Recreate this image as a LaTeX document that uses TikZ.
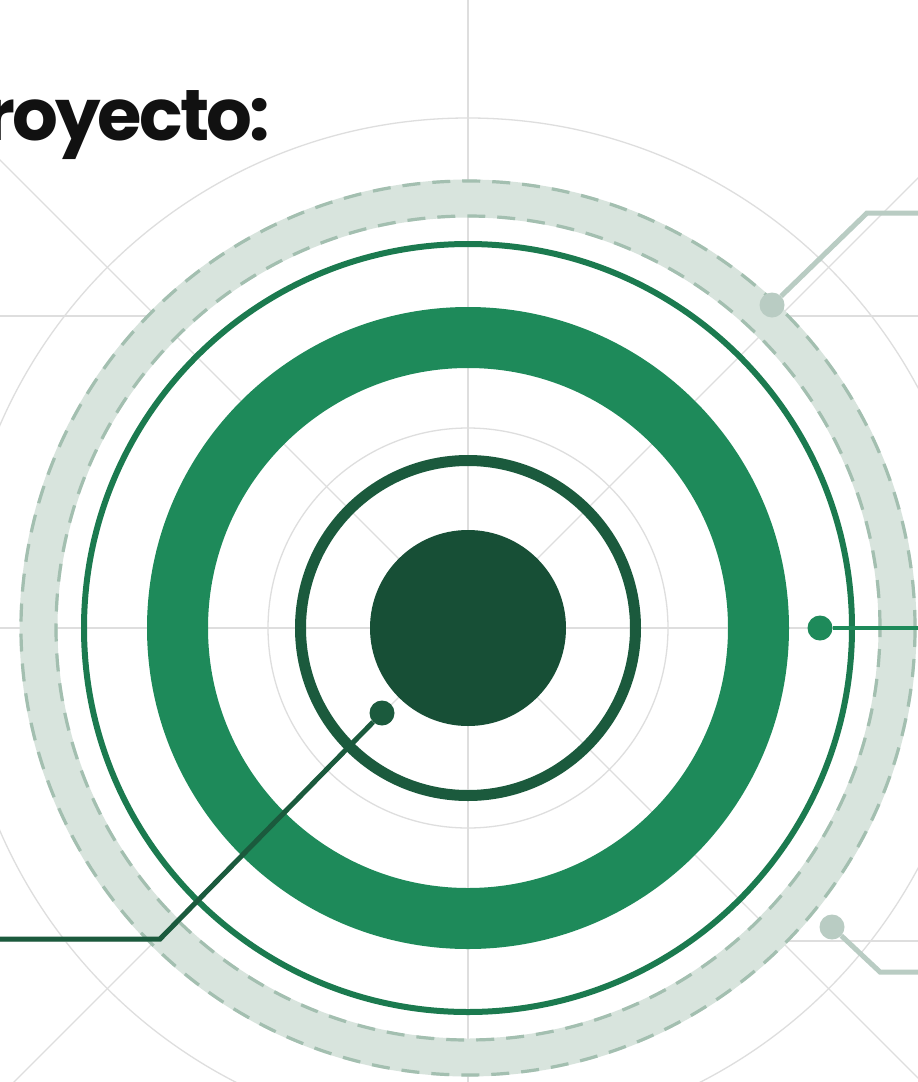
\documentclass[tikz,border=0pt]{standalone}
\usepackage{fontspec}
\newfontfamily\titlefont{Poppins}[LetterSpace=-4]
\definecolor{gridc}{HTML}{DEDEDE}
\definecolor{bandfill}{HTML}{D8E4DD}
\definecolor{banddash}{HTML}{A3BFB0}
\definecolor{midgreen}{HTML}{1E8A5A}
\definecolor{thingreen}{HTML}{1B7A4F}
\definecolor{darkgreen}{HTML}{174F36}
\definecolor{darkring}{HTML}{1B5A3D}
\definecolor{callgray}{HTML}{B9CCC3}
\definecolor{titlec}{HTML}{111111}
\begin{document}
\begin{tikzpicture}[x=1pt,y=-1pt,
  gridline/.style={draw=gridc,line width=1.3pt},
  bandedge/.style={draw=banddash,line width=3.2pt,dash pattern=on 18pt off 12pt},
  dotnode/.style={circle,inner sep=0pt,minimum size=25pt,draw=none},
  callline/.style={line width=5pt}]
\fill[white] (0,0) rectangle (918,1082);
\useasboundingbox (0,0) rectangle (918,1082);
\coordinate (C) at (468,628);
% grid
\draw[gridline] (468,0) -- (468,1082);
\draw[gridline] (0,628) -- (918,628);
\draw[gridline] (C) +(-700,-700) -- +(700,700);
\draw[gridline] (C) +(-700,700) -- +(700,-700);
\draw[gridline] (C) circle[radius=200pt];
\draw[gridline] (C) circle[radius=510pt];
\draw[gridline] (0,316) -- (147,316) (789,316) -- (918,316);
\draw[gridline] (0,941) -- (147,941) (789,941) -- (918,941);
% band
\draw[bandfill,line width=38pt] (C) circle[radius=429.5pt];
\draw[bandedge] (C) circle[radius=447pt];
\draw[bandedge] (C) circle[radius=412pt];
% rings
\draw[thingreen,line width=6pt] (C) circle[radius=384pt];
\draw[midgreen,line width=61pt] (C) circle[radius=290.5pt];
\draw[darkring,line width=11pt] (C) circle[radius=167.5pt];
\node[circle,fill=darkgreen,minimum size=196pt,inner sep=0pt] (core) at (C) {};
% title
\node[anchor=base east,inner sep=0pt,text=titlec,font=\titlefont\bfseries\fontsize{72}{78}\selectfont] (title) at (270,140) {royecto:};
% callouts
\node[dotnode,fill=callgray] (d1) at (772,305) {};
\coordinate (k1) at (867,213);
\coordinate (e1) at (918,213);
\draw[callline,callgray] (d1) -- (k1) -- (e1);
\node[dotnode,fill=midgreen] (d2) at (820,628) {};
\coordinate (e2) at (918,628);
\draw[callline,midgreen,line width=4.5pt] (d2) -- (e2);
\node[dotnode,fill=callgray] (d3) at (832,927) {};
\coordinate (k3) at (880,972);
\coordinate (e3) at (918,972);
\draw[callline,callgray] (d3) -- (k3) -- (e3);
\node[dotnode,fill=darkring] (d4) at (382,713) {};
\coordinate (k4) at (160,939);
\coordinate (e4) at (0,939);
\draw[callline,darkring] (d4) -- (k4) -- (e4);
\end{tikzpicture}
\end{document}
